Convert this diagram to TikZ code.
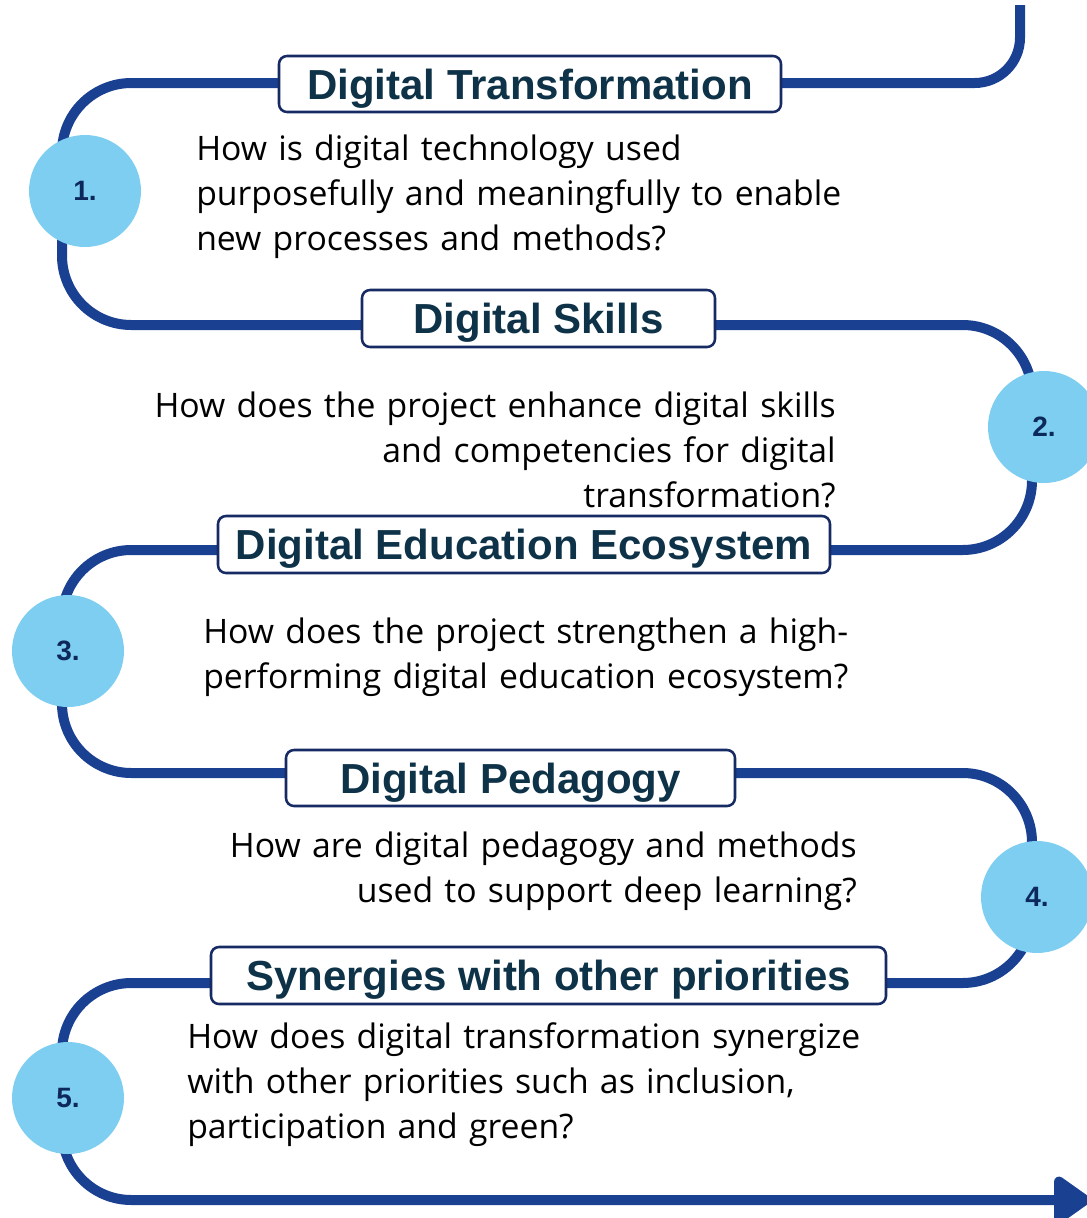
\documentclass[tikz,border=0pt]{standalone}
\usepackage{fontspec}
\setmainfont{Open Sans}
\newfontfamily\titlefont{Liberation Sans}
\usetikzlibrary{arrows.meta}
\definecolor{pathblue}{RGB}{26,64,145}
\definecolor{circblue}{RGB}{125,206,240}
\definecolor{titlecol}{RGB}{14,50,72}
\definecolor{boxborder}{RGB}{22,42,100}
\definecolor{numcol}{RGB}{13,40,90}
\begin{document}
\begin{tikzpicture}[x=0.75pt,y=-0.75pt,
  pathline/.style={line width=7.5pt, draw=pathblue},
  titlebox/.style={draw=boxborder, line width=1.9pt, rounded corners=6pt, fill=white,
    font=\titlefont\bfseries\fontsize{31.5}{36}\selectfont, text=titlecol, inner sep=0pt,
    text height=22.6pt, text depth=0pt},
  numcirc/.style={circle, fill=circblue, minimum size=84pt, inner sep=0pt,
    font=\titlefont\bfseries\fontsize{21}{24}\selectfont, text=numcol},
  qleft/.style={font=\fontsize{25.3}{33.75}\selectfont, text width=580pt, align=left, anchor=base west, inner sep=0pt},
  qright/.style={font=\fontsize{25.3}{33.75}\selectfont, text width=580pt, align=right, anchor=base east, inner sep=0pt}
]
\useasboundingbox (0,0) rectangle (1087,1218);
% waypoints of the winding line
\coordinate (s0) at (1020,5);
\coordinate (s1) at (1020,83);
\coordinate (s2) at (530,83);
\coordinate (w1) at (62,83);
\coordinate (w2) at (62,325);
\coordinate (e1) at (1032,325);
\coordinate (e2) at (1032,550);
\coordinate (w3) at (62,550);
\coordinate (w4) at (62,773);
\coordinate (e3) at (1032,773);
\coordinate (e4) at (1032,983);
\coordinate (w5) at (62,983);
\coordinate (w6) at (62,1200);
\coordinate (tip) at (1090,1200);
\draw[pathline, rounded corners=34pt] (s0) -- (s1) -- (s2);
\draw[pathline, rounded corners=52pt, -{Triangle[length=30pt,width=40pt,round]}]
  (s2) -- (w1) -- (w2) -- (e1) -- (e2) -- (w3) -- (w4) -- (e3) -- (e4) -- (w5) -- (w6) -- (tip);

% title boxes
\node[titlebox, minimum width={502*0.75pt}, minimum height={56*0.75pt}] (t1) at (530,84) {Digital Transformation};
\node[titlebox, minimum width={353*0.75pt}, minimum height={57*0.75pt}] (t2) at (538.5,318.5) {Digital Skills};
\node[titlebox, minimum width={612*0.75pt}, minimum height={57*0.75pt}] (t3) at (524,544.5) {Digital Education Ecosystem};
\node[titlebox, minimum width={449*0.75pt}, minimum height={56*0.75pt}] (t4) at (510.5,778) {Digital Pedagogy};
\node[titlebox, minimum width={675*0.75pt}, minimum height={57*0.75pt}] (t5) at (548.5,975.5) {Synergies with other priorities};

% numbered circles
\node[numcirc] (c1) at (85,191) {1.};
\node[numcirc] (c2) at (1044,427) {2.};
\node[numcirc] (c3) at (68,651) {3.};
\node[numcirc] (c4) at (1037,897) {4.};
\node[numcirc] (c5) at (68,1098) {5.};

% questions
\node[qleft] (q1) at (196,160) {How is digital technology used\\purposefully and meaningfully to enable\\new processes and methods?};
\node[qright] (q2) at (836,417) {How does the project enhance digital skills\\and competencies for digital\\transformation?};
\node[qleft] (q3) at (203,643) {How does the project strengthen a high-\\performing digital education ecosystem?};
\node[qright] (q4) at (857,857) {How are digital pedagogy and methods\\used to support deep learning?};
\node[qleft] (q5) at (187,1048) {How does digital transformation synergize\\with other priorities such as inclusion,\\participation and green?};
\end{tikzpicture}
\end{document}
